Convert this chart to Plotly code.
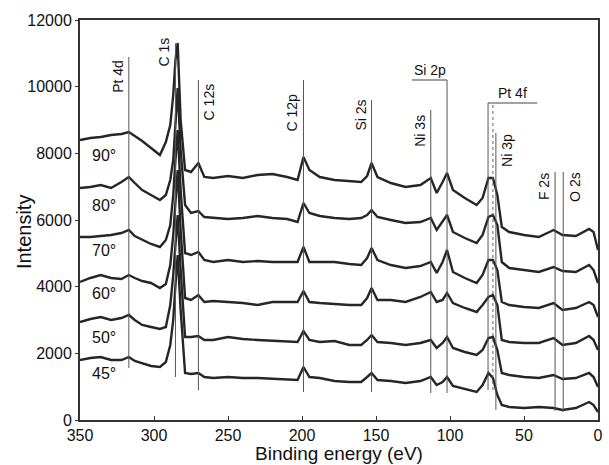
import plotly.graph_objects as go

energy = [350, 343, 336, 329, 322, 317, 313, 308, 302, 296, 292, 289, 287, 285.5, 284, 282, 279, 275, 270, 266,
          260, 250, 240, 230, 220, 210, 203, 199, 195, 188, 178, 168, 160, 156, 153, 149, 140, 130, 120, 113,
          109, 105, 102, 98, 90, 82, 78, 74, 71, 68, 65, 60, 50, 40, 30, 24, 15, 6, 3, 0]

i90 = [8400, 8460, 8490, 8550, 8580, 8640, 8520, 8370, 8160, 7950, 8340, 8850, 9750, 10800, 11310, 9000, 7500, 7440, 7710, 7290,
       7260, 7320, 7260, 7350, 7380, 7290, 7200, 7890, 7500, 7290, 7200, 7170, 7140, 7320, 7710, 7290, 7110, 6990, 7050, 7260,
       6810, 7140, 7410, 6900, 6660, 6450, 6660, 7260, 7260, 6750, 5790, 5640, 5550, 5490, 5700, 5550, 5520, 5730, 5640, 5100]
i80 = [6960, 6990, 7050, 6960, 7140, 7290, 7110, 6900, 6750, 6600, 6750, 7200, 7800, 9000, 9960, 8100, 6450, 6210, 6270, 6090,
       6060, 6030, 6060, 6120, 6060, 6030, 5940, 6510, 6210, 6120, 6060, 6030, 6060, 6150, 6300, 6090, 6000, 5910, 5940, 6060,
       5700, 5940, 6150, 5640, 5460, 5310, 5550, 6090, 6150, 5850, 4740, 4560, 4500, 4440, 4590, 4470, 4440, 4650, 4500, 4110]
i70 = [5490, 5490, 5520, 5550, 5610, 5700, 5520, 5400, 5280, 5190, 5400, 5850, 6750, 7800, 8700, 6900, 5010, 4950, 5040, 4800,
       4740, 4800, 4740, 4770, 4740, 4740, 4740, 5190, 4740, 4740, 4740, 4680, 4650, 4860, 5160, 4800, 4650, 4560, 4620, 4740,
       4410, 4740, 5100, 4440, 4260, 4110, 4350, 4800, 4800, 4500, 3540, 3450, 3390, 3360, 3510, 3300, 3360, 3540, 3450, 3090]
i60 = [4140, 4260, 4350, 4260, 4230, 4350, 4260, 4170, 4110, 3960, 4080, 4650, 5550, 6600, 7500, 5700, 3660, 3600, 3750, 3540,
       3570, 3540, 3510, 3450, 3540, 3540, 3540, 3870, 3540, 3510, 3480, 3450, 3450, 3660, 3960, 3600, 3600, 3540, 3690, 3840,
       3540, 3600, 3810, 3510, 3360, 3240, 3450, 3690, 3750, 3450, 2400, 2340, 2310, 2310, 2460, 2250, 2310, 2520, 2400, 2100]
i50 = [2940, 3030, 3090, 3000, 3060, 3150, 3000, 2850, 2790, 2730, 2790, 3450, 4350, 5400, 6150, 4500, 2490, 2490, 2520, 2400,
       2400, 2490, 2430, 2400, 2370, 2340, 2340, 2670, 2400, 2340, 2370, 2250, 2250, 2400, 2550, 2340, 2310, 2250, 2310, 2400,
       2160, 2310, 2490, 2160, 2040, 1950, 2100, 2460, 2490, 2100, 1410, 1350, 1290, 1260, 1350, 1230, 1260, 1410, 1290, 990]
i45 = [1800, 1860, 1890, 1800, 1800, 1890, 1770, 1710, 1620, 1590, 1740, 2250, 3000, 4050, 4950, 3300, 1410, 1380, 1410, 1290,
       1260, 1290, 1260, 1260, 1230, 1200, 1200, 1590, 1290, 1260, 1170, 1140, 1140, 1290, 1410, 1200, 1170, 1110, 1170, 1290,
       1050, 1140, 1290, 1020, 930, 840, 1050, 1410, 1260, 750, 450, 390, 360, 390, 360, 300, 360, 540, 450, 240]

series = [("90°", i90), ("80°", i80), ("70°", i70), ("60°", i60), ("50°", i50), ("45°", i45)]
angle_label_y = [7950, 6450, 5100, 3810, 2490, 1410]

x_ticks = [350, 300, 250, 200, 150, 100, 50, 0]
y_ticks = [0, 2000, 4000, 6000, 8000, 10000, 12000]
y_tick_text = ["0", "2000", "4000", "6000", "8000", "10000", "12000"]

# peak markers: name, energy, line bottom, line top
markers = [("Pt 4d", 317, 1560, 10890), ("C 1s", 285.5, 1290, 11300), ("C 12s", 270, 900, 10200),
           ("C 12p", 199, 840, 10200), ("Si 2s", 153, 840, 9600), ("Ni 3s", 113, 810, 9300),
           ("Si 2p", 102, 810, 10200), ("Pt 4f", 74.3, 900, 9510), ("Ni 3p", 69, 300, 8610),
           ("F 2s", 29, 270, 7440), ("O 2s", 23.5, 240, 7440)]

fig = go.Figure()
for name, vals in series:
    fig.add_trace(go.Scatter(x=energy, y=vals, mode="lines", name=name,
                             line=dict(color="#262626", width=2.4), showlegend=False))

shapes = []
for name, e, y0, y1 in markers:
    shapes.append(dict(type="line", xref="x", yref="y", x0=e, x1=e, y0=y0, y1=y1,
                       line=dict(color="#555", width=1)))
# brackets for Si 2p and Pt 4f
shapes.append(dict(type="line", xref="x", yref="y", x0=125.7, x1=102, y0=10200, y1=10200,
                   line=dict(color="#444", width=1.2)))
shapes.append(dict(type="line", xref="x", yref="y", x0=74.3, x1=41, y0=9510, y1=9510,
                   line=dict(color="#444", width=1.2)))
shapes.append(dict(type="line", xref="x", yref="y", x0=71, x1=71, y0=900, y1=9510,
                   line=dict(color="#666", width=1, dash="dot")))

font_lbl = dict(family="Liberation Sans, Arial", size=14, color="#111")
ann = []
# rotated labels: (text, x, y, side)
rot = [("Pt 4d", 317, 10320, "left"), ("C 1s", 285.5, 11040, "left"), ("C 12s", 270, 9540, "right"),
       ("C 12p", 199, 9240, "left"), ("Si 2s", 153, 9150, "left"), ("Ni 3s", 113, 8670, "left"),
       ("Ni 3p", 69, 8100, "right"), ("F 2s", 29, 6990, "left"), ("O 2s", 23.5, 7000, "right")]
for t, x, y, side in rot:
    ann.append(dict(text=t, x=x, y=y, xref="x", yref="y", showarrow=False, textangle=-90,
                    xanchor="right" if side == "left" else "left",
                    xshift=-1 if side == "left" else 1, font=font_lbl))
ann.append(dict(text="Si 2p", x=113.8, y=10200, xref="x", yref="y", showarrow=False,
                yanchor="bottom", font=font_lbl))
ann.append(dict(text="Pt 4f", x=57.5, y=9510, xref="x", yref="y", showarrow=False,
                yanchor="bottom", font=font_lbl))
for (name, _), y in zip(series, angle_label_y):
    ann.append(dict(text=name, x=334, y=y, xref="x", yref="y", showarrow=False,
                    font=dict(family="Liberation Sans, Arial", size=16, color="#111")))
# axis titles
ann.append(dict(text="Binding energy (eV)", x=0.5, y=-0.083, xref="paper", yref="paper",
                showarrow=False, xanchor="center", yanchor="middle",
                font=dict(family="Liberation Sans, Arial", size=19, color="#111")))
ann.append(dict(text="Intensity", x=-0.108, y=0.47, xref="paper", yref="paper", textangle=-90,
                showarrow=False, xanchor="center", yanchor="middle",
                font=dict(family="Liberation Sans, Arial", size=20, color="#111")))

fig.update_layout(
    width=609, height=465,
    margin=dict(l=80, r=11, t=20, b=45),
    paper_bgcolor="white", plot_bgcolor="white",
    shapes=shapes, annotations=ann,
    font=dict(family="Liberation Sans, Arial", size=16, color="#111"),
)
fig.update_xaxes(range=[350, 0], tickvals=x_ticks, automargin=False,
                 showline=True, linecolor="#333", linewidth=2, mirror=True,
                 ticks="inside", ticklen=4, tickcolor="#333", showgrid=False, zeroline=False,
                 tickfont=dict(size=16))
fig.update_yaxes(range=[0, 12000], tickvals=y_ticks, ticktext=y_tick_text, automargin=False,
                 showline=True, linecolor="#333", linewidth=2, mirror=True,
                 ticks="outside", ticklen=3, tickcolor="#333", showgrid=False, zeroline=False,
                 tickfont=dict(size=16))

fig.write_html("out.html")
